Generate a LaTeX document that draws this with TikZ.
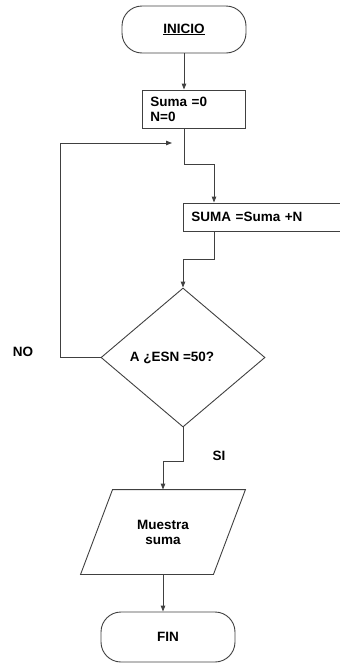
\documentclass[tikz,border=0pt]{standalone}
\usepackage{fontspec}
\setmainfont{Liberation Sans}
\usetikzlibrary{shapes.geometric,arrows.meta}
\tikzset{
  base/.style={draw=black!75, line width=0.9pt, font=\bfseries\fontsize{13.5}{15}\selectfont},
  terminal/.style={base, rectangle, rounded corners=20pt, minimum width=124pt, minimum height=47pt},
  process/.style={base, rectangle, align=left, inner xsep=8pt, anchor=west},
  decision/.style={base, diamond, minimum width=164pt, minimum height=139pt, inner sep=0pt},
  inout/.style={base, draw=none, rectangle, minimum width=132pt, minimum height=84pt, align=center},
  flow/.style={draw=black!75, line width=0.9pt, -{Triangle[length=6pt,width=4.5pt]}},
  tag/.style={font=\bfseries\fontsize{13.5}{15}\selectfont}
}
\begin{document}
\begin{tikzpicture}[x=1pt, y=-1pt]
    \useasboundingbox (0,0) rectangle (340,667);
    % Boxes
    \node (ini) [terminal] at (184,29.5) {\underline{INICIO}};
    \node (init) [process, minimum width=103pt, minimum height=38pt, text width=87pt] at (142,109) {Suma =0\\N=0};
    \node (suma) [process, minimum width=170pt, minimum height=28pt, text width=154pt] at (183,217) {SUMA =Suma +N};
    \node (cond) [decision, label={[tag, xshift=-11pt]center:A ¿ESN =50?}] at (183,357.5) {};
    \node (out) [inout] at (163,532) {Muestra\\suma};
    \draw[base] ([xshift=16pt]out.north west) -- ([xshift=16pt]out.north east)
      -- ([xshift=-16pt]out.south east) -- ([xshift=-16pt]out.south west) -- cycle;
    \node (fin) [terminal, minimum width=134pt, minimum height=50pt] at (168,637) {FIN};

    % Labels
    \node (no) [tag] at (23,352) {NO};
    \node (si) [tag] at (219,456) {SI};

    % Bends
    \coordinate (j1) at (184,164);
    \coordinate (j2) at (214,164);
    \coordinate (j3) at (214,259);
    \coordinate (j4) at (183,259);
    \coordinate (j5) at (183,461);
    \coordinate (j6) at (163,461);
    \coordinate (back) at (172,143);

    % Arrows
    \draw[flow] (ini.south) -- (ini.south |- init.north);
    \draw[flow] (ini.south |- init.south) -- (j1) -- (j2) -- (j2 |- suma.north);
    \draw[flow] (j2 |- suma.south) -- (j3) -- (j4) -- (cond.north);
    \draw[flow] (cond.west) -| (60,143) -- (back);
    \draw[flow] (cond.south) -- (j5) -- (j6) -- (out.north);
    \draw[flow] (out.south) -- (out.south |- fin.north);
\end{tikzpicture}
\end{document}
